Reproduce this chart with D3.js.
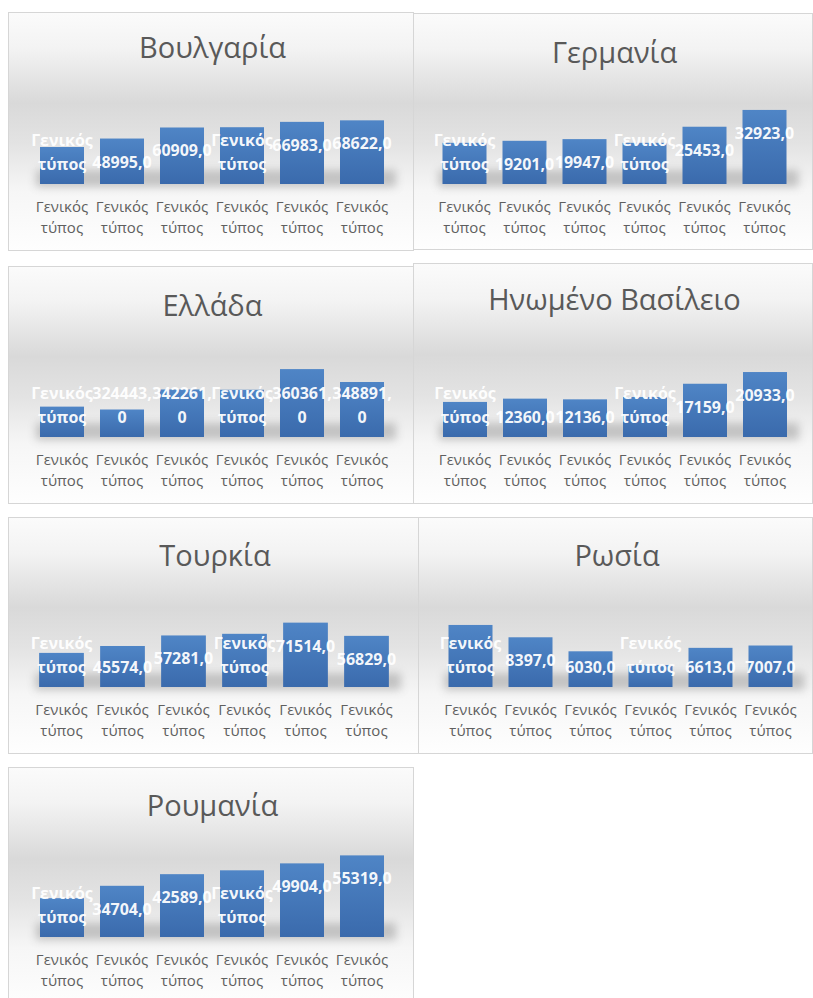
<!DOCTYPE html>
<html><head><meta charset="utf-8">
<script src="https://cdn.jsdelivr.net/npm/d3@7/dist/d3.min.js"></script>
<style>body{margin:0;background:#fff;} svg{display:block;}</style>
</head><body><svg id="c" width="813" height="998"></svg>
<script>
// ---------- data ----------
const countries = ["Βουλγαρία","Γερμανία","Ελλάδα","Ηνωμένο Βασίλειο","Τουρκία","Ρωσία","Ρουμανία"];
const categories = ["Γενικός τύπος","Γενικός τύπος","Γενικός τύπος","Γενικός τύπος","Γενικός τύπος","Γενικός τύπος"];
const bulgaria = [39900, 48995, 60909, 61200, 66983, 68622];
const germany  = [18300, 19201, 19947, 18300, 25453, 32923];
const greece   = [327000, 324443, 342261, 342000, 360361, 348891];
const uk       = [11300, 12360, 12136, 12900, 17159, 20933];
const turkey   = [37900, 45574, 57281, 59100, 71514, 56829];
const russia   = [10480, 8397, 6030, 3720, 6613, 7007];
const romania  = [26300, 34704, 42589, 45200, 49904, 55319];
// bars 1 and 4 show the text "Γενικός τύπος" instead of the number
const labelShown = [false, true, true, false, true, true];
const axisMin = [0, 0, 300000, 0, 0, 0, 0];
const axisMax = [97000, 40000, 380000, 29000, 100000, 15200, 61000];
const series = [bulgaria, germany, greece, uk, turkey, russia, romania];

// ---------- layout ----------
const panels = [
  {x:8,   y:12,  w:405, h:238, cx:212,   step:60, bottom:184, title:58},
  {x:413, y:13,  w:399, h:236, cx:614.5, step:60, bottom:184, title:63},
  {x:8,   y:266, w:405, h:237, cx:212,   step:60, bottom:437, title:316},
  {x:413, y:263, w:399, h:240, cx:615,   step:60, bottom:437, title:310},
  {x:8,   y:517, w:410, h:236, cx:214,   step:61, bottom:687, title:566},
  {x:418, y:517, w:394, h:236, cx:620.5, step:60, bottom:687, title:566},
  {x:8,   y:767, w:405, h:240, cx:212,   step:60, bottom:937, title:816}
];
const plotH = 90;
const font = "'Open Sans','Noto Sans','DejaVu Sans',sans-serif";

const svg = d3.select("#c");
const defs = svg.append("defs");
const bg = defs.append("linearGradient").attr("id","bg").attr("x1",0).attr("y1",0).attr("x2",0).attr("y2",1);
[[0,"#fbfbfb"],[0.15,"#f3f3f3"],[0.38,"#d9d9d9"],[0.55,"#e3e3e3"],[0.75,"#f6f6f6"],[1,"#fefefe"]]
  .forEach(([o,c])=>bg.append("stop").attr("offset",o).attr("stop-color",c));
const bar = defs.append("linearGradient").attr("id","bar").attr("x1",0).attr("y1",0).attr("x2",0).attr("y2",1);
[[0,"#4f85c6"],[1,"#3a6aac"]].forEach(([o,c])=>bar.append("stop").attr("offset",o).attr("stop-color",c));
defs.append("filter").attr("id","blur").attr("x","-20%").attr("y","-100%").attr("width","140%").attr("height","300%")
  .append("feGaussianBlur").attr("stdDeviation",4);

panels.forEach((p,i)=>{
  const g = svg.append("g");
  const vals = series[i];
  g.append("rect").attr("x",p.x+0.5).attr("y",p.y+0.5).attr("width",p.w).attr("height",p.h)
    .attr("fill","url(#bg)").attr("stroke","#d6d6d6").attr("stroke-width",1);

  g.append("text").attr("x",p.x+p.w/2+2).attr("y",p.title).attr("text-anchor","middle")
    .attr("font-family",font).attr("font-size",29).attr("fill","#595959").text(countries[i]);

  const x = d3.scaleBand().domain(d3.range(vals.length))
    .range([p.cx-3*p.step, p.cx+3*p.step]).paddingInner(16/60).paddingOuter(8/60);
  const y = d3.scaleLinear().domain([axisMin[i], axisMax[i]]).range([p.bottom, p.bottom-plotH]);

  // soft floor shadow
  g.append("rect").attr("x",x(0)-4).attr("y",p.bottom-14)
    .attr("width",x(vals.length-1)+x.bandwidth()-x(0)+16).attr("height",17)
    .attr("fill","#8a8a8a").attr("opacity",0.45).attr("filter","url(#blur)");

  g.selectAll("rect.bar").data(vals).join("rect").attr("class","bar")
    .attr("x",(d,j)=>x(j)).attr("y",d=>y(d)).attr("width",x.bandwidth())
    .attr("height",d=>p.bottom-y(d)).attr("fill","url(#bar)");

  // category labels
  vals.forEach((d,j)=>{
    const words = categories[j].split(" ");
    words.forEach((w,k)=>{
      g.append("text").attr("x",x(j)+x.bandwidth()/2).attr("y",p.bottom+28+k*21)
        .attr("text-anchor","middle").attr("font-family",font).attr("font-size",15)
        .attr("fill","#5f5f5f").text(w);
    });
  });

  // data labels
  vals.forEach((d,j)=>{
    let lines;
    if(!labelShown[j]) lines = categories[j].split(" ");
    else if(d >= 100000) lines = [d + ",", "0"];
    else lines = [d + ",0"];
    const cxl = x(j)+x.bandwidth()/2;
    let centers;
    if(lines.length===2) centers = [p.bottom-44, p.bottom-20];
    else centers = [Math.min(y(d)+23, p.bottom-20)];
    lines.forEach((t,k)=>{
      g.append("text").attr("x",cxl).attr("y",centers[k]+6)
        .attr("text-anchor","middle").attr("font-family",font).attr("font-size",16)
        .attr("font-weight","bold").attr("fill","#ffffff").attr("fill-opacity",0.95).text(t);
    });
  });
});
</script>
</body></html>
